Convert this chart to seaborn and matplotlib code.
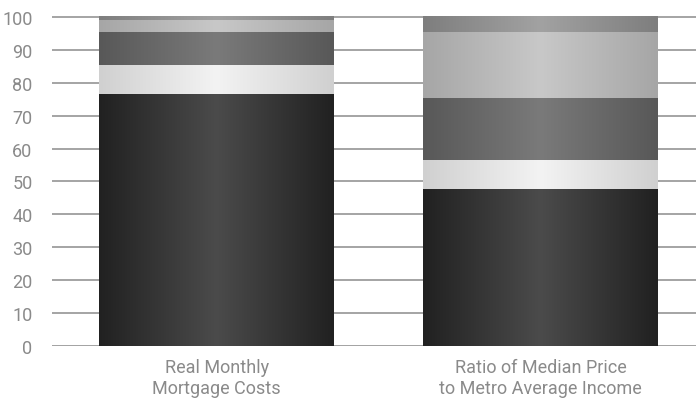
import numpy as np
import pandas as pd
import matplotlib
matplotlib.use("Agg")
import matplotlib.pyplot as plt
from matplotlib import font_manager
from matplotlib.colors import to_rgb
import seaborn as sns

categories = ["Real Monthly\nMortgage Costs", "Ratio of Median Price\nto Metro Average Income"]

# stacked shares, bottom to top
layer_1 = [76.7, 47.8]
layer_2 = [8.8, 8.8]
layer_3 = [10.0, 18.9]
layer_4 = [3.6, 20.0]
layer_5 = [1.3, 4.9]
layers = [layer_1, layer_2, layer_3, layer_4, layer_5]

# (edge colour, centre colour) for the horizontal sheen of each layer
shades = [
    ("#212121", "#4b4b4b"),
    ("#d0d0d0", "#f3f3f3"),
    ("#585858", "#7a7a7a"),
    ("#a6a6a6", "#c8c8c8"),
    ("#7e7e7e", "#a2a2a2"),
]

yticks = list(range(0, 101, 10))

sns.set_theme(style="white")
available = {f.name for f in font_manager.fontManager.ttflist}
family = "Liberation Sans Narrow" if "Liberation Sans Narrow" in available else "Roboto"
plt.rcParams["font.family"] = [family, "DejaVu Sans"]

fig = plt.figure(figsize=(6.96, 4.02), dpi=100)
ax = fig.add_axes([52 / 696, 1 - 346.7 / 402, 1 - 52 / 696, (346.7 - 15) / 402])

df = pd.DataFrame({"category": categories})
bottom = np.zeros(len(categories))
bar_sets = []
for vals, (edge, centre) in zip(layers, shades):
    df["value"] = vals
    n_before = len(ax.patches)
    sns.barplot(data=df, x="category", y="value", bottom=bottom, color=edge,
                width=0.725, saturation=1, linewidth=0, ax=ax, zorder=2)
    bar_sets.append((ax.patches[n_before:], edge, centre))
    bottom = bottom + np.array(vals)

# horizontal gradient: dark at the bar edges, lighter towards the middle
xs = np.linspace(0, 1, 256)
t = 1 - np.abs(2 * xs - 1)
for patches, edge, centre in bar_sets:
    e = np.array(to_rgb(edge))
    c = np.array(to_rgb(centre))
    grad = (e[None, :] + (c - e)[None, :] * t[:, None])[None, :, :]
    for p in patches:
        x0, y0 = p.get_x(), p.get_y()
        w, h = p.get_width(), p.get_height()
        im = ax.imshow(grad, extent=(x0, x0 + w, y0, y0 + h), aspect="auto",
                       interpolation="bilinear", zorder=3)
        im.set_clip_path(p)

ax.set_xlim(-0.508, 1.48)
ax.set_ylim(0, 101)
ax.set_yticks(yticks)
ax.set_yticklabels([str(v) for v in yticks])
ax.yaxis.grid(True, color="#a4a4a4", linewidth=1.4, zorder=0)
ax.set_axisbelow(True)
for s in ["top", "right", "left", "bottom"]:
    ax.spines[s].set_visible(False)
ax.axhline(0, color="#a4a4a4", linewidth=1.4, zorder=1)
ax.tick_params(axis="y", length=0, pad=14, labelsize=13, labelcolor="#8a8a8a")
ax.tick_params(axis="x", length=0, pad=9, labelsize=13, labelcolor="#8a8a8a")
ax.set_xlabel("")
ax.set_ylabel("")

fig.savefig("out.png", dpi=100)
